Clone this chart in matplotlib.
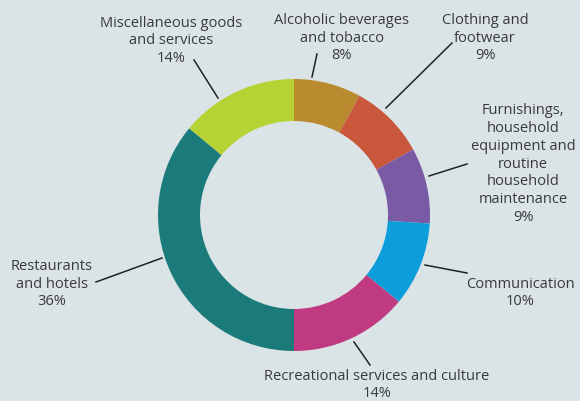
import matplotlib
matplotlib.use("Agg")
import matplotlib.pyplot as plt

# data
categories = [
    "Alcoholic beverages\nand tobacco",
    "Clothing and\nfootwear",
    "Furnishings,\nhousehold\nequipment and\nroutine\nhousehold\nmaintenance",
    "Communication",
    "Recreational services and culture",
    "Restaurants\nand hotels",
    "Miscellaneous goods\nand services",
]
shares = [8, 9, 9, 10, 14, 36, 14]
colors = ["#b98b2e", "#c9573c", "#7a5aa5", "#0c9edb", "#bf3a80", "#1b7b7b", "#b5d334"]

# layout (pixel coords, y from top)
label_pos = [(342, 38), (485, 38), (523, 164), (520, 293), (377, 385), (52, 284), (171, 41)]
line_from = [(317, 54), (452, 43), (467, 164), (467, 273), (370, 365), (96, 282), (194, 60)]
line_to = [(312, 77), (386, 108), (429, 176), (425, 265), (354, 342), (162, 258), (218, 98)]

W, H = 580, 401
bg = "#dae3e6"
plt.rcParams["font.family"] = ["Open Sans", "DejaVu Sans"]

fig = plt.figure(figsize=(W / 100, H / 100), dpi=100)
fig.patch.set_facecolor(bg)
ax = fig.add_axes([0, 0, 1, 1])
ax.set_facecolor(bg)

R = 136
ax.pie(shares, colors=colors, startangle=90, counterclock=False,
       center=(294, H - 215), radius=R, frame=True,
       wedgeprops=dict(width=42, linewidth=0))
ax.set_xlim(0, W)
ax.set_ylim(0, H)
ax.set_aspect("equal")
ax.axis("off")

for name, val, (tx, ty), (x0, y0), (x1, y1) in zip(categories, shares, label_pos, line_from, line_to):
    ax.text(tx, H - ty, "%s\n%d%%" % (name, val), ha="center", va="center",
            multialignment="center", fontsize=10.5, color="#3a3a3a", linespacing=1.27)
    ax.plot([x0, x1], [H - y0, H - y1], color="#222222", lw=1.1)

fig.savefig("out.png", dpi=100, facecolor=bg)
